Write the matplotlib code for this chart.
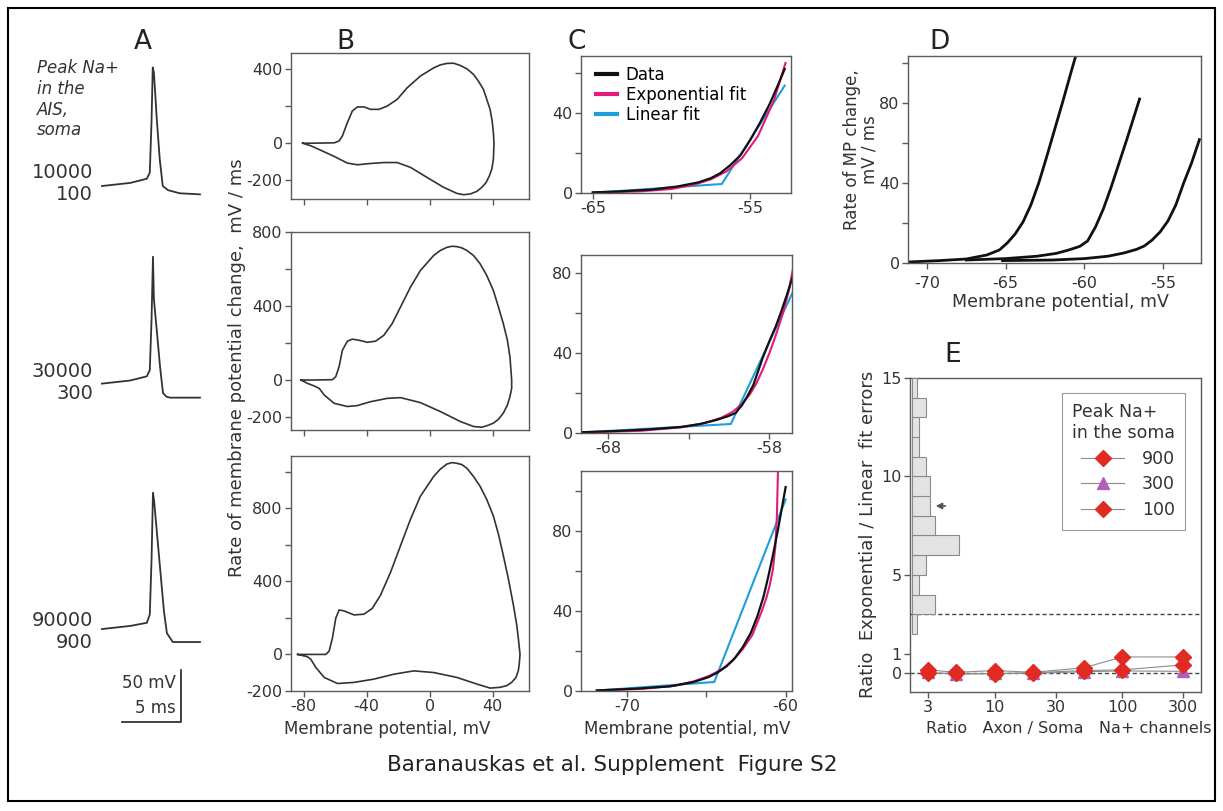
import numpy as np
import matplotlib
matplotlib.use("Agg")
import matplotlib.pyplot as plt
from matplotlib.patches import Rectangle
from matplotlib.lines import Line2D
from matplotlib.ticker import NullLocator

plt.rcParams['font.family'] = ['DejaVu Sans']
plt.rcParams['axes.unicode_minus'] = False

# ---------------- data ----------------
# A: action potentials (time ms, membrane potential mV)
ap1_t = [0, 2.4, 3.8, 4.05, 4.2, 4.3, 4.4, 4.65, 4.9, 5.15, 5.6, 6.6, 8.3]
ap1_v = [-75, -72, -68, -62, -12, 39, 34, -12, -50, -75, -79, -82, -83]
ap2_t = [0, 2.4, 3.8, 4.05, 4.2, 4.32, 4.4, 4.66, 4.92, 5.17, 5.45, 5.76, 8.3]
ap2_v = [-75, -72, -68, -62, -13, 47, 6, -26, -59, -84, -87.5, -88.5, -88.5]
ap3_t = [0, 2.4, 3.8, 4.05, 4.2, 4.32, 4.42, 4.66, 4.95, 5.25, 5.5, 6.0, 8.3]
ap3_v = [-75, -72, -69, -61, -8, 56, 48, 17, -20, -58, -79, -87.5, -87.5]
ais_density = ['10000', '30000', '90000']
soma_density = ['100', '300', '900']

# B: phase plots (mV, mV/ms)
pp1_v = [-80.6, -75.4, -60.6, -57.5, -55.4, -52.2, -49.1, -45.9, -41.7, -37.5, -32.2, -26.9, -20.6, -14.3,
         -5.9, 2.5, 6.7, 10.9, 15.2, 19.4, 23.6, 27.8, 30.9, 34.1, 36.2, 38.3, 39.6, 40.4, 40.8, 40.4,
         39.4, 37.9, 35.8, 33.1, 29.9, 25.7, 21.5, 17.3, 8.8, -1.7, -12.2, -20.6, -29.1, -37.5, -45.9,
         -52.2, -60.6, -69.1, -75.4, -80.6]
pp1_r = [0, 0, 2, 12, 39, 111, 173, 195, 195, 182, 182, 200, 236, 298, 361, 405, 421, 429, 430, 418,
         400, 370, 334, 289, 236, 182, 120, 57, 0, -86, -139, -175, -211, -237, -259, -273, -277, -270,
         -237, -184, -130, -104, -104, -109, -116, -107, -71, -38, -14, 0]
pp2_v = [-81.7, -75.4, -61.7, -59.6, -57.5, -55.4, -52.2, -49.1, -44.8, -39.6, -34.3, -29.1, -23.8, -18.5,
         -12.2, -5.9, 2.5, 6.7, 10.9, 14.1, 17.3, 20.4, 23.6, 27.8, 32.0, 36.2, 40.4, 43.6, 46.7, 49.3,
         50.9, 52.0, 52.0, 50.9, 49.3, 46.7, 43.6, 40.4, 36.6, 33.1, 27.8, 19.4, 6.7, -5.9, -18.5, -26.9,
         -37.5, -45.9, -52.2, -60.6, -66.9, -70.1, -73.3, -77.5, -81.7]
pp2_r = [0, 0, 2, 18, 72, 161, 210, 221, 215, 204, 210, 242, 305, 395, 502, 592, 673, 700, 717, 723,
         721, 714, 700, 673, 628, 565, 484, 395, 305, 215, 126, 0, -45, -90, -135, -179, -212, -233,
         -246, -255, -251, -224, -170, -122, -95, -99, -117, -138, -143, -126, -81, -45, -32, -18, 0]
pp3_v = [-83.8, -75.4, -65.9, -63.8, -61.7, -59.6, -57.5, -54.3, -48.0, -41.7, -36.4, -31.2, -24.8, -18.5,
         -12.2, -5.9, 2.5, 6.7, 10.9, 14.1, 17.3, 20.4, 23.6, 27.8, 32.0, 36.2, 40.4, 43.6, 46.7, 49.9,
         53.1, 55.2, 56.2, 57.3, 56.8, 56.2, 54.7, 52.0, 48.8, 44.6, 38.3, 29.9, 17.3, 2.5, -10.1, -22.7,
         -35.4, -48.0, -58.5, -66.9, -72.2, -75.4, -77.5, -81.7, -83.8]
pp3_r = [0, 0, 0, 18, 90, 198, 243, 238, 216, 220, 252, 324, 450, 595, 739, 865, 973, 1013, 1041, 1049,
         1045, 1038, 1018, 973, 919, 847, 757, 658, 541, 414, 270, 162, 90, 0, -54, -90, -126, -153,
         -171, -180, -184, -162, -126, -99, -90, -108, -135, -153, -159, -126, -72, -27, -13, -4, 0]

# C: onset of the spike with fits (mV, mV/ms)
c1_data_v = [-65, -63.3, -61.25, -59.6, -58.3, -57.5, -56.9, -56.25, -55.6, -55, -54.4, -53.75, -53.2, -52.8]
c1_data_r = [0.3, 0.8, 1.7, 3.3, 5.3, 7.4, 9.9, 14, 19, 26.4, 34.7, 44.6, 54.5, 62]
c1_exp_v = [-65, -62, -60, -58.5, -57.5, -56.5, -55.5, -54.5, -53.5, -52.75]
c1_exp_r = [0.2, 0.8, 2, 4.3, 6.8, 10.8, 17.5, 28.5, 46, 65]
c1_lin_v = [-65, -56.8, -52.8]
c1_lin_r = [0.1, 4.5, 53.7]

c2_data_v = [-69.6, -67.5, -65.5, -63.5, -62.3, -61.3, -60.6, -60.1, -59.7, -59.4, -59.0, -58.7, -58.4,
             -58.0, -57.6, -57.3, -56.9, -56.5, -56.4]
c2_data_r = [0.4, 1.0, 1.8, 3.0, 4.5, 6.5, 8.3, 10, 14, 18, 24, 31, 38, 46, 53.5, 60, 69.5, 79.6, 82]
c2_exp_v = [-69.6, -66, -63.5, -62, -61, -60.3, -59.7, -59.2, -58.8, -58.4, -58, -57.6, -57.2, -56.8, -56.4]
c2_exp_r = [0.3, 1.1, 2.8, 5, 7.6, 10.5, 14.5, 19.5, 25, 32, 40, 49, 59, 71, 88]
c2_lin_v = [-69.6, -60.4, -56.4]
c2_lin_r = [0.3, 4.5, 73]

c3_data_v = [-71.9, -69.4, -67.3, -65.8, -64.9, -64.3, -63.7, -63.2, -62.7, -62.2, -61.8, -61.4, -61.1,
             -60.8, -60.5, -60.25, -60.0]
c3_data_r = [0.3, 1.2, 2.3, 4.5, 6.8, 9.2, 12.5, 16.5, 22, 29, 37, 47, 57, 68, 80, 91, 102]
c3_exp_v = [-71.9, -69, -67, -65.8, -64.8, -64, -63.3, -62.7, -62.1, -61.7, -61.5, -61.2, -61.0, -60.8,
            -60.65, -60.55, -60.48]
c3_exp_r = [0.2, 1.1, 2.6, 4.8, 7.6, 11, 15.5, 21, 28, 36, 40, 47, 53, 61, 72, 88, 112]
c3_lin_v = [-71.9, -64.5, -60.0]
c3_lin_r = [0.2, 4.5, 95.8]

# D: three onset curves (mV, mV/ms)
d1_v = [-71.2, -69.2, -67.5, -66.2, -65.4, -64.9, -64.4, -63.9, -63.4, -62.9, -62.4, -61.9, -61.4, -60.9, -60.5]
d1_r = [0.5, 1.2, 2.0, 4.0, 6.5, 10, 14.5, 20.5, 29, 40, 53, 66.5, 80, 94, 105]
d2_v = [-67.5, -65, -63, -61.8, -61, -60.3, -59.8, -59.3, -58.8, -58.3, -57.8, -57.3, -56.9, -56.5]
d2_r = [1.5, 2.2, 3.4, 4.8, 6.5, 8.3, 11, 18, 27, 38, 50, 62, 72, 82]
d3_v = [-65.2, -62, -60, -58.5, -57.5, -56.7, -56.2, -55.7, -55.2, -54.7, -54.2, -53.7, -53.2, -52.7]
d3_r = [1.2, 1.5, 2.2, 3.4, 5, 6.8, 8.5, 11.5, 15.5, 21, 29, 40, 50, 61.7]

# E: fit-error ratio vs axon/soma Na+ channel ratio
axon_soma_ratio = [3, 5, 10, 20, 50, 100, 300]
err_900 = [0.17, 0.05, 0.14, 0.05, 0.28, 0.83, 0.83]
err_300 = [0.05, -0.05, 0.0, 0.0, 0.08, 0.12, 0.1]
err_100 = [0.0, 0.0, -0.03, 0.03, 0.14, 0.17, 0.43]
hist_bin_lo = [2, 3, 4, 5, 6, 7, 8, 9, 10, 11, 12, 13, 14]
hist_count = [1, 5, 1.5, 3, 10.5, 5, 4, 4, 3, 1.5, 1.5, 3, 1]
median_mark = 8.5

# ---------------- layout helpers ----------------
W, H = 1223, 811
fig = plt.figure(figsize=(W / 100, H / 100), dpi=100)
fig.patch.set_facecolor('white')


def fx(px):
    return px / W


def fy(py):
    return 1 - py / H


def box(l, t, r, b):
    return [l / W, 1 - b / H, (r - l) / W, (b - t) / H]


INK = '#333333'
FRAME = '#5a5a5a'
TICK_FS = 11.5
LAB_FS = 12


def style(ax, xpad=2):
    for s in ax.spines.values():
        s.set_color(FRAME)
        s.set_linewidth(1.0)
    ax.tick_params(which='both', direction='out', color=FRAME, labelcolor=INK,
                   labelsize=TICK_FS, width=1, length=4)
    ax.tick_params(axis='y', which='both', pad=2)
    ax.tick_params(axis='x', which='both', pad=xpad)


# ---------------- panel A ----------------
axA = fig.add_axes(box(95, 50, 210, 740))
axA.axis('off')
axA.set_xlim(-0.59, 9.15)
axA.set_ylim(-607.7, 55.8)
offsets = [0, -190, -426]
for t, v, off in zip([ap1_t, ap2_t, ap3_t], [ap1_v, ap2_v, ap3_v], offsets):
    axA.plot(t, np.array(v) + off, color='#333333', lw=1.3)
# scale bar: 50 mV / 5 ms
axA.plot([1.7, 6.7, 6.7], [-590, -590, -540], color='#222222', lw=1.2, clip_on=False)
axA.text(6.25, -553, '50 mV', ha='right', va='center', fontsize=12, color=INK)
axA.text(6.25, -577, '5 ms', ha='right', va='center', fontsize=12, color=INK)

fig.text(fx(37), fy(59), 'Peak Na+\nin the\nAIS,\nsoma', style='italic', fontsize=12,
         ha='left', va='top', linespacing=1.2, color=INK)
for ais, soma, yc in zip(ais_density, soma_density, [172, 372, 620]):
    fig.text(fx(93), fy(yc), ais, ha='right', va='center', fontsize=14, color=INK)
    fig.text(fx(93), fy(yc + 22), soma, ha='right', va='center', fontsize=14, color=INK)

# ---------------- panel B ----------------
b_boxes = [(291, 53, 529, 199), (291, 232, 529, 430), (291, 456, 529, 691)]
b_ylims = [(-300, 485), (-270, 800), (-200, 1085)]
b_major = [[-200, 0, 400], [-200, 0, 400, 800], [-200, 0, 400, 800]]
b_minor = [[200], [200, 600], [200, 600, 1000]]
for i, (bx, vv, rr) in enumerate(zip(b_boxes, [pp1_v, pp2_v, pp3_v], [pp1_r, pp2_r, pp3_r])):
    ax = fig.add_axes(box(*bx))
    style(ax)
    ax.plot(vv, rr, color='#333333', lw=1.2, solid_joinstyle='round')
    ax.set_xlim(-88, 63)
    ax.set_ylim(*b_ylims[i])
    ax.set_xticks([-80, -40, 0, 40])
    ax.set_yticks(b_major[i])
    ax.set_yticks(b_minor[i], minor=True)
    if i < 2:
        ax.set_xticklabels([])

fig.text(fx(237), fy(368), 'Rate of membrane potential change,  mV / ms', rotation=90,
         ha='center', va='center', fontsize=13, color=INK)
fig.text(fx(387), fy(729), 'Membrane potential, mV', ha='center', va='center',
         fontsize=LAB_FS, color=INK)

# ---------------- panel C ----------------
C_DATA, C_EXP, C_LIN = '#111111', '#e3197c', '#1c9fdb'
c_boxes = [(581, 56, 791, 193), (581, 255, 792, 433), (581, 471, 792, 691)]
c_xlims = [(-65.75, -52.4), (-69.7, -56.6), (-72.9, -59.6)]
c_ylims = [(0, 68.5), (0, 89), (0, 110)]
c_xmajor = [[-65, -55], [-68, -58], [-70, -60]]
c_xminor = [[-60], [-63], [-65]]
c_ymajor = [[0, 40], [0, 40, 80], [0, 40, 80]]
c_yminor = [[20, 60], [20, 60], [20, 60, 100]]
c_sets = [(c1_data_v, c1_data_r, c1_exp_v, c1_exp_r, c1_lin_v, c1_lin_r),
          (c2_data_v, c2_data_r, c2_exp_v, c2_exp_r, c2_lin_v, c2_lin_r),
          (c3_data_v, c3_data_r, c3_exp_v, c3_exp_r, c3_lin_v, c3_lin_r)]
for i, (dv, dr, ev, er, lv, lr) in enumerate(c_sets):
    ax = fig.add_axes(box(*c_boxes[i]))
    style(ax)
    ax.plot(lv, lr, color=C_LIN, lw=1.5)
    ax.plot(ev, er, color=C_EXP, lw=1.5, solid_joinstyle='round')
    ax.plot(dv, dr, color=C_DATA, lw=1.6, solid_joinstyle='round')
    ax.set_xlim(*c_xlims[i])
    ax.set_ylim(*c_ylims[i])
    ax.set_xticks(c_xmajor[i])
    ax.set_xticks(c_xminor[i], minor=True)
    ax.set_yticks(c_ymajor[i])
    ax.set_yticks(c_yminor[i], minor=True)
    if i == 0:
        handles = [Line2D([], [], color=C_DATA, lw=3), Line2D([], [], color=C_EXP, lw=3),
                   Line2D([], [], color=C_LIN, lw=3)]
        ax.legend(handles, ['Data', 'Exponential fit', 'Linear fit'], loc='upper left',
                  bbox_to_anchor=(0.07, 0.925), frameon=False, fontsize=12, handlelength=1.3,
                  handletextpad=0.5, labelspacing=0.12, borderpad=0, borderaxespad=0)

fig.text(fx(687), fy(729), 'Membrane potential, mV', ha='center', va='center',
         fontsize=LAB_FS, color=INK)

# ---------------- panel D ----------------
axD = fig.add_axes(box(908, 56, 1201, 263))
style(axD, xpad=5)
for vv, rr in zip([d1_v, d2_v, d3_v], [d1_r, d2_r, d3_r]):
    axD.plot(vv, rr, color='#111111', lw=2.0, solid_joinstyle='round')
axD.set_xlim(-71.2, -52.6)
axD.set_ylim(0, 103.5)
axD.set_xticks([-70, -65, -60, -55])
axD.set_yticks([0, 40, 80])
axD.set_yticks([20, 60, 100], minor=True)
fig.text(fx(861), fy(150), 'Rate of MP change,\nmV / ms', rotation=90, ha='center', va='center',
         fontsize=LAB_FS, color=INK, multialignment='center', linespacing=1.0)
fig.text(fx(1060), fy(302), 'Membrane potential, mV', ha='center', va='center',
         fontsize=12.5, color=INK)

# ---------------- panel E ----------------
axE = fig.add_axes(box(910, 378, 1201, 692))
style(axE)
axE.set_xscale('log')
axE.set_xlim(2.16, 416)
axE.set_ylim(-0.95, 15)
axE.axhline(0, color='#444444', lw=1, ls=(0, (3, 2)), zorder=1)
axE.axhline(3, color='#444444', lw=1, ls=(0, (3, 2)), zorder=1)
series = [(err_900, 'D', '#e02a22', '900'), (err_300, '^', '#b060b8', '300'), (err_100, 'D', '#e02a22', '100')]
for vals, mk, col, lab in series:
    axE.plot(axon_soma_ratio, vals, color='#8c8c8c', lw=0.8, marker=mk, ms=8.5 if mk == 'D' else 9,
             mfc=col, mec=col, label=lab, zorder=3)
axE.set_xticks([3, 10, 30, 100, 300])
axE.set_xticklabels(['3', '10', '30', '100', '300'])
axE.xaxis.set_minor_locator(NullLocator())
axE.set_yticks([0, 1, 5, 10, 15])
leg = axE.legend(title='Peak Na+\nin the soma', loc='upper right', bbox_to_anchor=(0.976, 0.981),
                 alignment='right', fontsize=12.5, title_fontsize=12.5, frameon=True, fancybox=False,
                 edgecolor='#9a9a9a', framealpha=1, handlelength=2.5, numpoints=1,
                 labelspacing=0.45, borderpad=0.6, handletextpad=1.0)
leg.get_frame().set_linewidth(0.8)
leg.get_title().set_color(INK)
for tx in leg.get_texts():
    tx.set_color(INK)

axH = axE.twiny()
axH.set_xlim(-0.5, 64.2)
axH.barh(hist_bin_lo, hist_count, height=1, align='edge', color='#e3e3e3', edgecolor='#8a8a8a',
         lw=0.8, zorder=2)
axH.annotate('', xy=(4.6, median_mark), xytext=(8.0, median_mark),
             arrowprops=dict(arrowstyle='-|>', color='#555555', lw=1.2, mutation_scale=9))
axH.xaxis.set_visible(False)
for s in axH.spines.values():
    s.set_visible(False)

fig.text(fx(868), fy(534), 'Ratio  Exponential / Linear  fit errors', rotation=90,
         ha='center', va='center', fontsize=13, color=INK)
fig.text(fx(1069), fy(729), 'Ratio   Axon / Soma   Na+ channels', ha='center', va='center',
         fontsize=11.5, color=INK)

# ---------------- panel letters, caption, border ----------------
for letter, px, py in [('A', 143, 42), ('B', 345, 42), ('C', 577, 42), ('D', 940, 42), ('E', 953, 355)]:
    fig.text(fx(px), fy(py), letter, ha='center', va='center', fontsize=19, color='#222222')

fig.text(fx(612), fy(765), 'Baranauskas et al. Supplement  Figure S2', ha='center', va='center',
         fontsize=15.5, color='#222222')

fig.add_artist(Rectangle((fx(8), fy(801)), (1215 - 8) / W, (801 - 8) / H, transform=fig.transFigure,
                         fill=False, edgecolor='black', lw=1.5))

fig.savefig('out.png', dpi=100)
